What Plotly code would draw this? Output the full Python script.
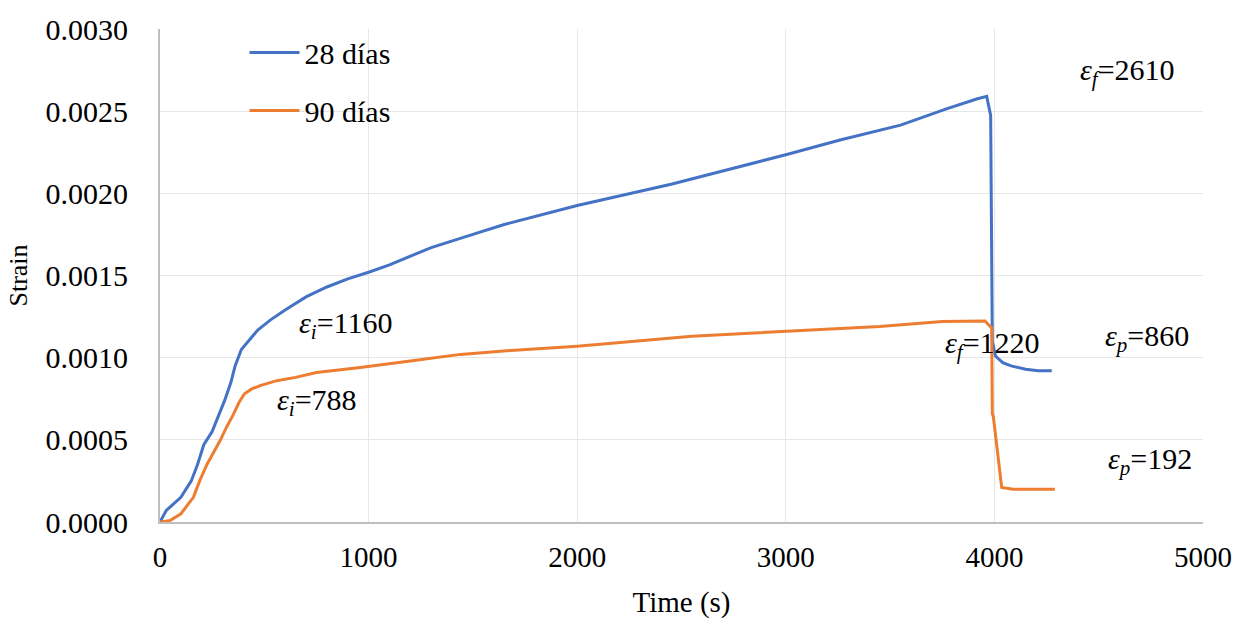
import plotly.graph_objects as go

# Data
t_28 = [0, 30, 100, 150, 180, 210, 250, 280, 310, 340, 360, 390, 430, 470, 530, 600, 700,
        800, 900, 1000, 1100, 1300, 1500, 1650, 2000, 2450, 3000, 3260, 3550, 3770, 3915,
        3963, 3982, 3986, 3990, 4005, 4040, 4080, 4150, 4210, 4275]
s_28 = [0, 0.00007, 0.00015, 0.00025, 0.00035, 0.00047, 0.00055, 0.00064, 0.00074, 0.00085,
        0.00095, 0.00105, 0.00111, 0.00117, 0.00123, 0.00129, 0.00137, 0.00143, 0.00148,
        0.00152, 0.001565, 0.00167, 0.00175, 0.00181, 0.001926, 0.002055, 0.002235,
        0.002325, 0.002415, 0.002514, 0.002574, 0.00259, 0.002474, 0.00130, 0.00110,
        0.00101, 0.00097, 0.00095, 0.00093, 0.00092, 0.00092]

t_90 = [0, 50, 100, 160, 190, 225, 260, 290, 320, 350, 380, 405, 440, 480, 560, 650, 750,
        960, 1200, 1440, 1700, 2000, 2550, 3000, 3450, 3750, 3955, 3987,
        3990, 3995, 4035, 4090, 4290]
s_90 = [0, 0.00001, 0.00005, 0.00015, 0.00025, 0.00035, 0.00043, 0.00050, 0.00058, 0.00065,
        0.00073, 0.00078, 0.00081, 0.00083, 0.00086, 0.00088, 0.00091, 0.00094, 0.00098,
        0.00102, 0.001045, 0.00107, 0.00113, 0.00116, 0.00119, 0.00122, 0.001223, 0.00118,
        0.00066, 0.00064, 0.00021, 0.00020, 0.00020]

series_names = ["28 días", "90 días"]
colors = ["#4472C4", "#ED7D31"]

# Annotation labels: (sym, sub, value, t, strain)
labels = [
    ("ε", "i", "1160", 887, 0.00120),
    ("ε", "i", "788", 753, 0.00073),
    ("ε", "f", "2610", 4636, 0.00274),
    ("ε", "f", "1220", 3989, 0.00108),
    ("ε", "p", "860", 4732, 0.00112),
    ("ε", "p", "192", 4746, 0.00037),
]

x_ticks = [0, 1000, 2000, 3000, 4000, 5000]
y_ticks = [0, 0.0005, 0.0010, 0.0015, 0.0020, 0.0025, 0.0030]

FONT = "Liberation Serif, Times New Roman, serif"
F29 = dict(family=FONT, size=29, color="black")

fig = go.Figure()
for name, t, s, c in zip(series_names, [t_28, t_90], [s_28, s_90], colors):
    fig.add_trace(go.Scatter(x=t, y=s, mode="lines", name=name,
                             line=dict(color=c, width=3), legendgroup=name))

for sym, sub, val, tx, sy in labels:
    fig.add_annotation(x=tx, y=sy, xref="x", yref="y",
                       text=f"<i>{sym}</i><sub><i>{sub}</i></sub>={val}",
                       showarrow=False, font=dict(family=FONT, size=30, color="black"))

fig.update_layout(
    width=1249, height=625,
    margin=dict(l=160, r=46, t=20, b=101),
    paper_bgcolor="white", plot_bgcolor="white",
    font=F29,
    legend=dict(x=0.081, y=1.005, xanchor="left", yanchor="top",
                bgcolor="rgba(0,0,0,0)", font=dict(family=FONT, size=30, color="black"),
                itemwidth=50, tracegroupgap=16, traceorder="grouped"),
    showlegend=True,
)
fig.update_xaxes(range=[0, 5000], tickvals=x_ticks, ticktext=[str(v) for v in x_ticks],
                 tickfont=F29,
                 showgrid=True, gridcolor="#E6E6E6", gridwidth=1,
                 showline=True, linecolor="#BFBFBF", linewidth=2,
                 zeroline=False, ticks="", ticklabelstandoff=8,
                 title=dict(text="Time (s)", font=F29, standoff=20))
fig.update_yaxes(range=[0, 0.0030], tickvals=y_ticks, ticktext=[f"{v:.4f}" for v in y_ticks],
                 tickfont=dict(family=FONT, size=30, color="black"),
                 showgrid=True, gridcolor="#E6E6E6", gridwidth=1,
                 showline=True, linecolor="#BFBFBF", linewidth=2,
                 zeroline=False, ticks="", ticklabelstandoff=24,
                 title=dict(text="Strain", font=dict(family=FONT, size=26, color="black"),
                            standoff=10))

fig.write_html("out.html")
